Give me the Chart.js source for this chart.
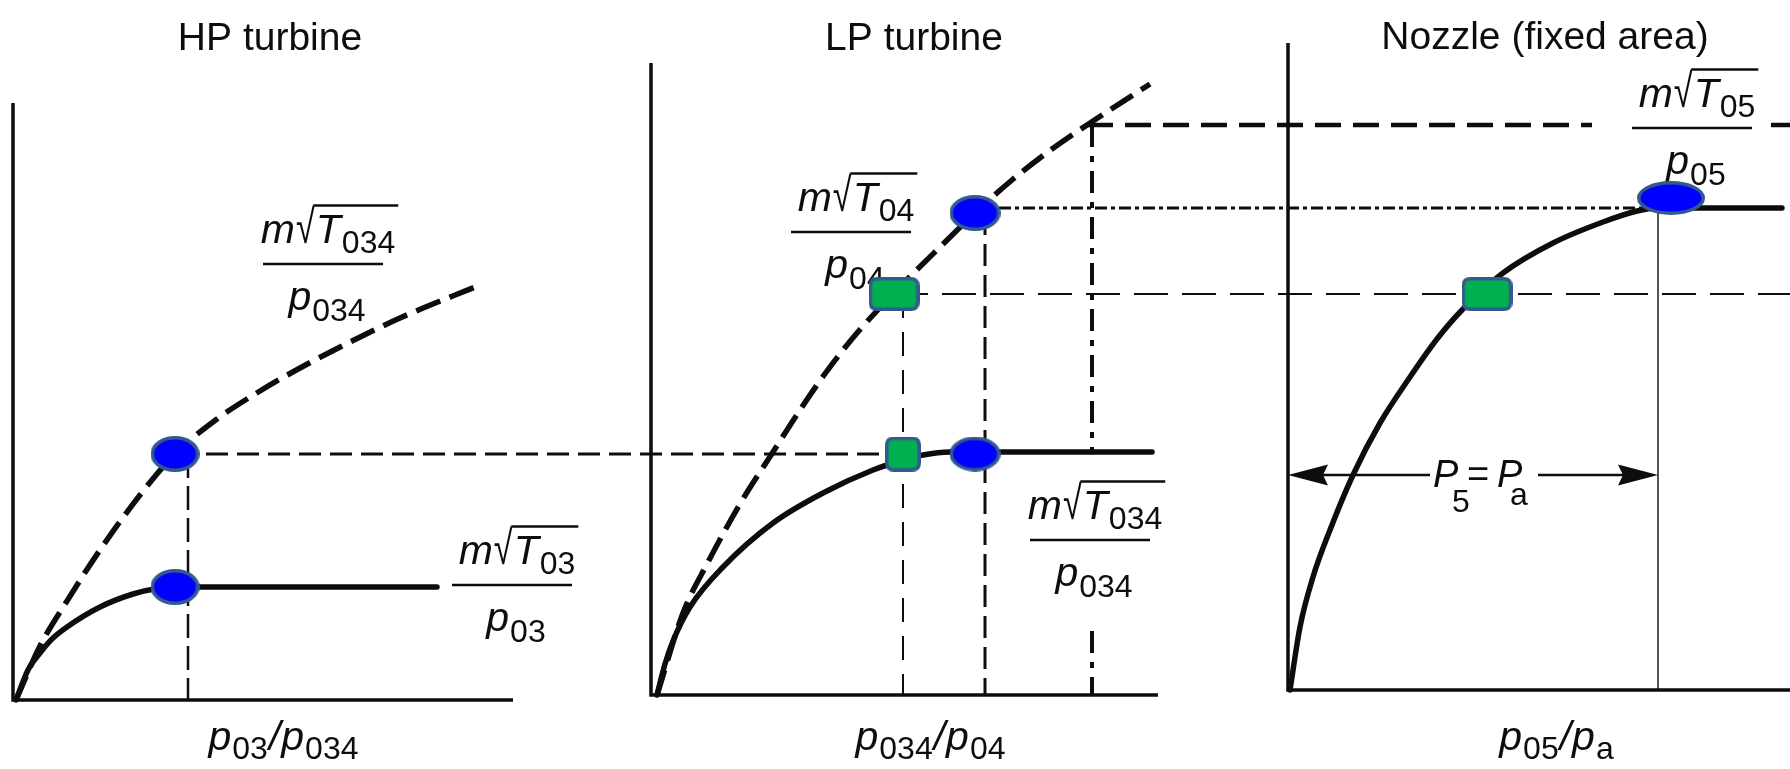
<!DOCTYPE html>
<html>
<head>
<meta charset="utf-8">
<title>Turbine and nozzle flow matching</title>
<script src="https://cdn.jsdelivr.net/npm/chart.js@4.4.1/dist/chart.umd.min.js"></script>
<style>
  html, body { margin: 0; padding: 0; background: #ffffff; }
  canvas { display: block; }
</style>
</head>
<body>
<canvas id="matching" width="1790" height="769"></canvas>
<script>
// Pressure ratio (x, starting at 1) against non-dimensional mass flow (y).

// HP turbine: m√T03/p03 and m√T034/p034 against p03/p034
const hpInletFlow = [
  {x: 1.00, y: 0}, {x: 1.12, y: 0.060}, {x: 1.24, y: 0.094}, {x: 1.36, y: 0.122},
  {x: 1.51, y: 0.146}, {x: 1.84, y: 0.186}, {x: 2.17, y: 0.212}, {x: 2.41, y: 0.223},
  {x: 2.59, y: 0.226}, {x: 5.21, y: 0.226}
];
const hpExitFlow = [
  {x: 1.00, y: 0}, {x: 1.24, y: 0.108}, {x: 1.51, y: 0.198}, {x: 1.84, y: 0.300},
  {x: 2.24, y: 0.410}, {x: 2.59, y: 0.492}, {x: 3.01, y: 0.562}, {x: 3.44, y: 0.618},
  {x: 3.84, y: 0.664}, {x: 4.34, y: 0.716}, {x: 4.84, y: 0.764}, {x: 5.64, y: 0.830}
];

// LP turbine: m√T034/p034 and m√T04/p04 against p034/p04
const lpInletFlow = [
  {x: 1.00, y: 0}, {x: 1.08, y: 0.062}, {x: 1.16, y: 0.108}, {x: 1.33, y: 0.176},
  {x: 1.66, y: 0.256}, {x: 2.16, y: 0.344}, {x: 2.66, y: 0.404}, {x: 3.16, y: 0.450},
  {x: 3.43, y: 0.468}, {x: 3.66, y: 0.480}, {x: 3.93, y: 0.486}, {x: 5.95, y: 0.486}
];
const lpExitFlow = [
  {x: 1.00, y: 0}, {x: 1.26, y: 0.164}, {x: 1.50, y: 0.262}, {x: 1.83, y: 0.382},
  {x: 2.16, y: 0.486}, {x: 2.43, y: 0.570}, {x: 2.70, y: 0.648}, {x: 3.00, y: 0.724},
  {x: 3.36, y: 0.802}, {x: 3.83, y: 0.896}, {x: 4.18, y: 0.964}, {x: 4.55, y: 1.030},
  {x: 4.95, y: 1.092}, {x: 5.30, y: 1.140}, {x: 5.93, y: 1.222}
];

// Fixed-area nozzle: m√T05/p05 against p05/pa
const nozzleFlow = [
  {x: 1.00, y: 0}, {x: 1.10, y: 0.126}, {x: 1.23, y: 0.226}, {x: 1.40, y: 0.320},
  {x: 1.63, y: 0.430}, {x: 1.90, y: 0.534}, {x: 2.20, y: 0.626}, {x: 2.47, y: 0.702},
  {x: 2.72, y: 0.760}, {x: 3.13, y: 0.834}, {x: 3.63, y: 0.894}, {x: 4.13, y: 0.936},
  {x: 4.47, y: 0.958}, {x: 4.68, y: 0.964}, {x: 5.92, y: 0.964}
];

// Operating points: choked (design) and unchoked (part load)
const hpDesign = [{x: 2.59, y: 0.492}, {x: 2.59, y: 0.226}];
const lpDesign = [{x: 4.18, y: 0.964}, {x: 4.18, y: 0.482}];
const lpPartLoad = [{x: 3.37, y: 0.802}, {x: 3.46, y: 0.482}];
const nozzleDesign = [{x: 4.81, y: 0.984}];
const nozzlePartLoad = [{x: 2.97, y: 0.792}];

// Construction lines
const hpRatioGuide = [2.72];
const lpRatioGuides = [3.46, 4.28, 5.35];
const lpMaxFlow = [{x: 5.30, y: 1.140}];
const nozzleChokeRatio = [4.68];

// Axis extents for each panel
const hpAxis = [{x: 0.97, y: 1.194}, {x: 0.97, y: 0}, {x: 5.97, y: 0}];
const lpAxis = [{x: 0.94, y: 1.264}, {x: 0.94, y: 0}, {x: 6.01, y: 0}];
const nozzleAxis = [{x: 0.98, y: 1.294}, {x: 0.98, y: 0}, {x: 6.20, y: 0}];

const panelTitles = ['HP turbine', 'LP turbine', 'Nozzle (fixed area)'];

// ---------- layout ----------
const W = 1790, H = 769, PX_PER_X = 100, PX_PER_Y = 500;
const frames = {HP: {ox: 16, oy: 700}, LP: {ox: 657, oy: 695}, NZ: {ox: 1290, oy: 690}};

const INK = '#0d0d0d';
const FONT = '"Liberation Sans", Arial, Helvetica, sans-serif';
const MAIN = 'italic 41px ' + FONT;
const SUBF = '32px ' + FONT;
const RAD = '38px ' + FONT;
const RAD_SX = 0.9, RAD_SY = 1.25;

const titleAnchors = [
  {panel: 'HP', at: [3.54, 1.300]},
  {panel: 'LP', at: [3.57, 1.290]},
  {panel: 'NZ', at: [3.55, 1.282]}
];
const flowLabels = [
  {panel: 'HP', at: [4.07, 0.872], sub: '034'},
  {panel: 'HP', at: [5.96, 0.230], sub: '03'},
  {panel: 'LP', at: [2.94, 0.926], sub: '04'},
  {panel: 'LP', at: [5.33, 0.310], sub: '034', clear: [14, 22, 14, 20]},
  {panel: 'NZ', at: [5.02, 1.124], sub: '05', clear: [40, 6, 14, 6]}
];
const ratioLabels = [
  {panel: 'HP', at: [3.68, -0.10], parts: [['p', 0], ['03', 1], ['/', 0], ['p', 0], ['034', 1]]},
  {panel: 'LP', at: [3.74, -0.11], parts: [['p', 0], ['034', 1], ['/', 0], ['p', 0], ['04', 1]]},
  {panel: 'NZ', at: [3.67, -0.12], parts: [['p', 0], ['05', 1], ['/', 0], ['p', 0], ['a', 1]]}
];
const exitPressureArrow = {panel: 'NZ', level: 0.43, labelAt: 2.43};

// ---------- drawing helpers ----------
function stroke(ctx, pts, width, dash, color, cap) {
  ctx.save();
  ctx.beginPath();
  ctx.lineWidth = width;
  ctx.strokeStyle = color || INK;
  ctx.lineCap = cap || 'butt';
  ctx.setLineDash(dash || []);
  pts.forEach((p, i) => (i ? ctx.lineTo(p[0], p[1]) : ctx.moveTo(p[0], p[1])));
  ctx.stroke();
  ctx.restore();
}

function flowLabel(ctx, cx, by, sub, clear) {
  ctx.save();
  ctx.textAlign = 'left';
  ctx.textBaseline = 'alphabetic';
  ctx.font = MAIN;
  const wm = ctx.measureText('m').width, wT = ctx.measureText('T').width, wp = ctx.measureText('p').width;
  ctx.font = RAD;
  const rm = ctx.measureText('\u221A');
  const rRight = rm.actualBoundingBoxRight * RAD_SX;
  const rAsc = rm.actualBoundingBoxAscent * RAD_SY;
  ctx.font = SUBF;
  const ws = ctx.measureText(sub).width;

  const numW = wm + 1 + rRight + 1 + wT + 1 + ws;
  const nx = cx + 5 - numW / 2;
  const base = by - 21, subBase = by - 11;
  const denW = wp + 1 + ws, dx = cx + 4 - denW / 2;
  const dBase = by + 46, dSub = by + 57;
  const barHalf = 60;

  if (clear) {
    const left = Math.min(nx, cx - barHalf) - clear[0];
    const top = base - rAsc - 4 - clear[1];
    const right = Math.max(nx + numW, cx + barHalf) + clear[2];
    const bottom = dSub + 6 + clear[3];
    ctx.fillStyle = '#ffffff';
    ctx.fillRect(left, top, right - left, bottom - top);
  }

  ctx.fillStyle = INK;
  ctx.font = MAIN;
  ctx.fillText('m', nx, base);
  let x = nx + wm + 1;
  ctx.save();
  ctx.translate(x, base);
  ctx.scale(RAD_SX, RAD_SY);
  ctx.font = RAD;
  ctx.fillText('\u221A', 0, 0);
  ctx.restore();
  const rTop = base - rAsc + 1.2;
  x += rRight + 1;
  stroke(ctx, [[x - 2.5, rTop], [nx + numW + 3, rTop]], 2.4);
  ctx.font = MAIN;
  ctx.fillText('T', x, base);
  ctx.font = SUBF;
  ctx.fillText(sub, x + wT + 1, subBase);

  stroke(ctx, [[cx - barHalf, by], [cx + barHalf, by]], 2.6);

  ctx.font = MAIN;
  ctx.fillText('p', dx, dBase);
  ctx.font = SUBF;
  ctx.fillText(sub, dx + wp + 1, dSub);
  ctx.restore();
}

function ratioLabel(ctx, cx, base, parts) {
  ctx.save();
  ctx.textAlign = 'left';
  ctx.textBaseline = 'alphabetic';
  ctx.fillStyle = INK;
  const widths = parts.map(([t, s]) => { ctx.font = s ? SUBF : MAIN; return ctx.measureText(t).width + 1; });
  let x = cx - widths.reduce((a, b) => a + b, 0) / 2;
  parts.forEach(([t, s], i) => {
    ctx.font = s ? SUBF : MAIN;
    ctx.fillText(t, x, s ? base + 9 : base);
    x += widths[i];
  });
  ctx.restore();
}

function pressureLabel(ctx, x, y) {
  ctx.save();
  ctx.fillStyle = '#ffffff';
  ctx.fillRect(x - 3, y - 6, 108, 12);
  ctx.fillStyle = INK;
  ctx.textAlign = 'left';
  ctx.textBaseline = 'alphabetic';
  ctx.font = 'italic 38px ' + FONT;
  ctx.fillText('P', x, y + 12);
  ctx.fillText('P', x + 64, y + 12);
  ctx.font = '38px ' + FONT;
  ctx.fillText('=', x + 34, y + 12);
  ctx.font = '32px ' + FONT;
  ctx.fillText('5', x + 19, y + 37);
  ctx.fillText('a', x + 77, y + 30);
  ctx.restore();
}

function arrowHead(ctx, tipX, y, dir) {
  ctx.save();
  ctx.fillStyle = INK;
  ctx.beginPath();
  ctx.moveTo(tipX, y);
  ctx.lineTo(tipX + dir * 40, y - 10.5);
  ctx.lineTo(tipX + dir * 35, y);
  ctx.lineTo(tipX + dir * 40, y + 10.5);
  ctx.closePath();
  ctx.fill();
  ctx.restore();
}

// ---------- marker symbols ----------
const OUTLINE = '#335A8E';
function ellipseMark(w, h) {
  const c = document.createElement('canvas');
  c.width = w; c.height = h;
  const g = c.getContext('2d');
  const lw = 3.5;
  g.beginPath();
  g.ellipse(w / 2, h / 2, w / 2 - lw / 2, h / 2 - lw / 2, 0, 0, Math.PI * 2);
  g.fillStyle = '#0000FF';
  g.fill();
  g.lineWidth = lw;
  g.strokeStyle = OUTLINE;
  g.stroke();
  return c;
}
function blockMark(w, h) {
  const c = document.createElement('canvas');
  c.width = w; c.height = h;
  const g = c.getContext('2d');
  const lw = 3.5, r = 7, a = lw / 2, bw = w - lw, bh = h - lw;
  g.beginPath();
  g.moveTo(a + r, a);
  g.lineTo(a + bw - r, a);
  g.quadraticCurveTo(a + bw, a, a + bw, a + r);
  g.lineTo(a + bw, a + bh - r);
  g.quadraticCurveTo(a + bw, a + bh, a + bw - r, a + bh);
  g.lineTo(a + r, a + bh);
  g.quadraticCurveTo(a, a + bh, a, a + bh - r);
  g.lineTo(a, a + r);
  g.quadraticCurveTo(a, a, a + r, a);
  g.closePath();
  g.fillStyle = '#00B050';
  g.fill();
  g.lineWidth = lw;
  g.strokeStyle = OUTLINE;
  g.stroke();
  return c;
}

// ---------- construction lines and annotation ----------
const matchingAnnotations = {
  id: 'matchingAnnotations',
  beforeDatasetsDraw(chart) {
    const ctx = chart.ctx;
    const X = (p, v) => chart.scales['x' + p].getPixelForValue(v);
    const Y = (p, v) => chart.scales['y' + p].getPixelForValue(v);
    const right = chart.chartArea.right;

    // HP: design pressure ratio and exit flow carried across to the LP turbine
    const hpTop = hpDesign[0];
    stroke(ctx, [[X('HP', hpRatioGuide[0]), Y('HP', hpTop.y)], [X('HP', hpRatioGuide[0]), Y('HP', 0)]], 2.5, [24, 8]);
    const yConn = Y('HP', hpTop.y);
    stroke(ctx, [[X('HP', hpTop.x), yConn], [X('LP', lpPartLoad[1].x), yConn]], 3, [22, 9]);

    // LP: pressure-ratio guides
    stroke(ctx, [[X('LP', lpRatioGuides[0]), Y('LP', lpPartLoad[0].y)], [X('LP', lpRatioGuides[0]), Y('LP', 0)]], 2, [24, 14]);
    stroke(ctx, [[X('LP', lpRatioGuides[1]), Y('LP', lpDesign[0].y)], [X('LP', lpRatioGuides[1]), Y('LP', 0)]], 3, [22, 9]);
    stroke(ctx, [[X('LP', lpRatioGuides[2]), Y('LP', lpMaxFlow[0].y)], [X('LP', lpRatioGuides[2]), Y('LP', 0)]], 4, [22, 9, 6, 9]);

    // LP exit flow levels carried across to the nozzle
    const yMax = Y('LP', lpMaxFlow[0].y);
    stroke(ctx, [[X('LP', lpMaxFlow[0].x), yMax], [right, yMax]], 4.5, [26, 12]);
    const nozzleChoke = nozzleFlow[nozzleFlow.length - 1].y;
    const yChoke = Y('NZ', nozzleChoke);
    stroke(ctx, [[X('LP', lpDesign[0].x), yChoke], [X('NZ', nozzleDesign[0].x), yChoke]], 3, [12, 4, 4, 4]);
    const yPart = Y('LP', lpPartLoad[0].y);
    stroke(ctx, [[X('LP', lpPartLoad[0].x), yPart], [right, yPart]], 2, [34, 14]);

    // Nozzle: choking pressure ratio and P5 = Pa range
    stroke(ctx, [[X('NZ', nozzleChokeRatio[0]), Y('NZ', nozzleChoke)], [X('NZ', nozzleChokeRatio[0]), Y('NZ', 0)]], 1.6, [], '#2a2a2a');
    const ay = Y('NZ', exitPressureArrow.level);
    const a0 = X('NZ', nozzleAxis[1].x), a1 = X('NZ', nozzleChokeRatio[0]);
    stroke(ctx, [[a0 + 20, ay], [a1 - 20, ay]], 2.5);
    arrowHead(ctx, a0, ay, 1);
    arrowHead(ctx, a1, ay, -1);
    pressureLabel(ctx, X('NZ', exitPressureArrow.labelAt), ay);

    // Titles
    ctx.save();
    ctx.fillStyle = INK;
    ctx.font = '39px ' + FONT;
    ctx.textAlign = 'center';
    ctx.textBaseline = 'alphabetic';
    titleAnchors.forEach((t, i) => ctx.fillText(panelTitles[i], X(t.panel, t.at[0]), Y(t.panel, t.at[1])));
    ctx.restore();

    // Flow-parameter labels and axis quantities
    flowLabels.forEach(l => flowLabel(ctx, X(l.panel, l.at[0]), Y(l.panel, l.at[1]), l.sub, l.clear));
    ratioLabels.forEach(l => ratioLabel(ctx, X(l.panel, l.at[0]), Y(l.panel, l.at[1]), l.parts));
  }
};

// ---------- scales: one hidden x/y pair per panel ----------
const scales = {};
Object.entries(frames).forEach(([k, f]) => {
  scales['x' + k] = {
    type: 'linear', axis: 'x', position: 'bottom', display: false, bounds: 'data',
    min: 1 - f.ox / PX_PER_X, max: 1 + (W - f.ox) / PX_PER_X
  };
  scales['y' + k] = {
    type: 'linear', axis: 'y', position: 'left', display: false, bounds: 'data',
    min: -(H - f.oy) / PX_PER_Y, max: f.oy / PX_PER_Y
  };
});

const markerBase = {showLine: false, pointRadius: 20, pointHoverRadius: 20, pointBorderWidth: 0};
const curveBase = {
  showLine: true, pointRadius: 0, pointHoverRadius: 0, borderColor: INK, borderWidth: 5.5,
  cubicInterpolationMode: 'monotone', fill: false, borderCapStyle: 'round', borderJoinStyle: 'round'
};
const axisBase = {showLine: true, pointRadius: 0, pointHoverRadius: 0, borderColor: INK, borderWidth: 3.5,
  tension: 0, fill: false, borderJoinStyle: 'miter', borderCapStyle: 'butt'};
const on = p => ({xAxisID: 'x' + p, yAxisID: 'y' + p});

new Chart(document.getElementById('matching'), {
  type: 'scatter',
  data: {
    datasets: [
      // operating points (listed first so they sit on top)
      {label: 'HP design', data: hpDesign, ...on('HP'), ...markerBase,
        pointStyle: [ellipseMark(49, 36), ellipseMark(49, 36)]},
      {label: 'LP design', data: lpDesign, ...on('LP'), ...markerBase,
        pointStyle: [ellipseMark(51, 36), ellipseMark(51, 35)]},
      {label: 'LP part load', data: lpPartLoad, ...on('LP'), ...markerBase,
        pointStyle: [blockMark(51, 34), blockMark(36, 35)]},
      {label: 'Nozzle design', data: nozzleDesign, ...on('NZ'), ...markerBase,
        pointStyle: [ellipseMark(68, 34)]},
      {label: 'Nozzle part load', data: nozzlePartLoad, ...on('NZ'), ...markerBase,
        pointStyle: [blockMark(51, 34)]},
      // characteristics
      {label: 'm√T034/p034 (HP)', data: hpExitFlow, ...on('HP'), ...curveBase, borderDash: [26, 10], borderCapStyle: 'butt'},
      {label: 'm√T03/p03', data: hpInletFlow, ...on('HP'), ...curveBase},
      {label: 'm√T04/p04', data: lpExitFlow, ...on('LP'), ...curveBase, borderDash: [26, 10], borderCapStyle: 'butt'},
      {label: 'm√T034/p034 (LP)', data: lpInletFlow, ...on('LP'), ...curveBase},
      {label: 'm√T05/p05', data: nozzleFlow, ...on('NZ'), ...curveBase},
      // axes
      {label: 'HP axes', data: hpAxis, ...on('HP'), ...axisBase},
      {label: 'LP axes', data: lpAxis, ...on('LP'), ...axisBase},
      {label: 'Nozzle axes', data: nozzleAxis, ...on('NZ'), ...axisBase}
    ]
  },
  options: {
    responsive: false,
    devicePixelRatio: 1,
    animation: false,
    events: [],
    layout: {padding: 0, autoPadding: false},
    scales,
    plugins: {legend: {display: false}, tooltip: {enabled: false}, title: {display: false}}
  },
  plugins: [matchingAnnotations]
});
</script>
</body>
</html>
